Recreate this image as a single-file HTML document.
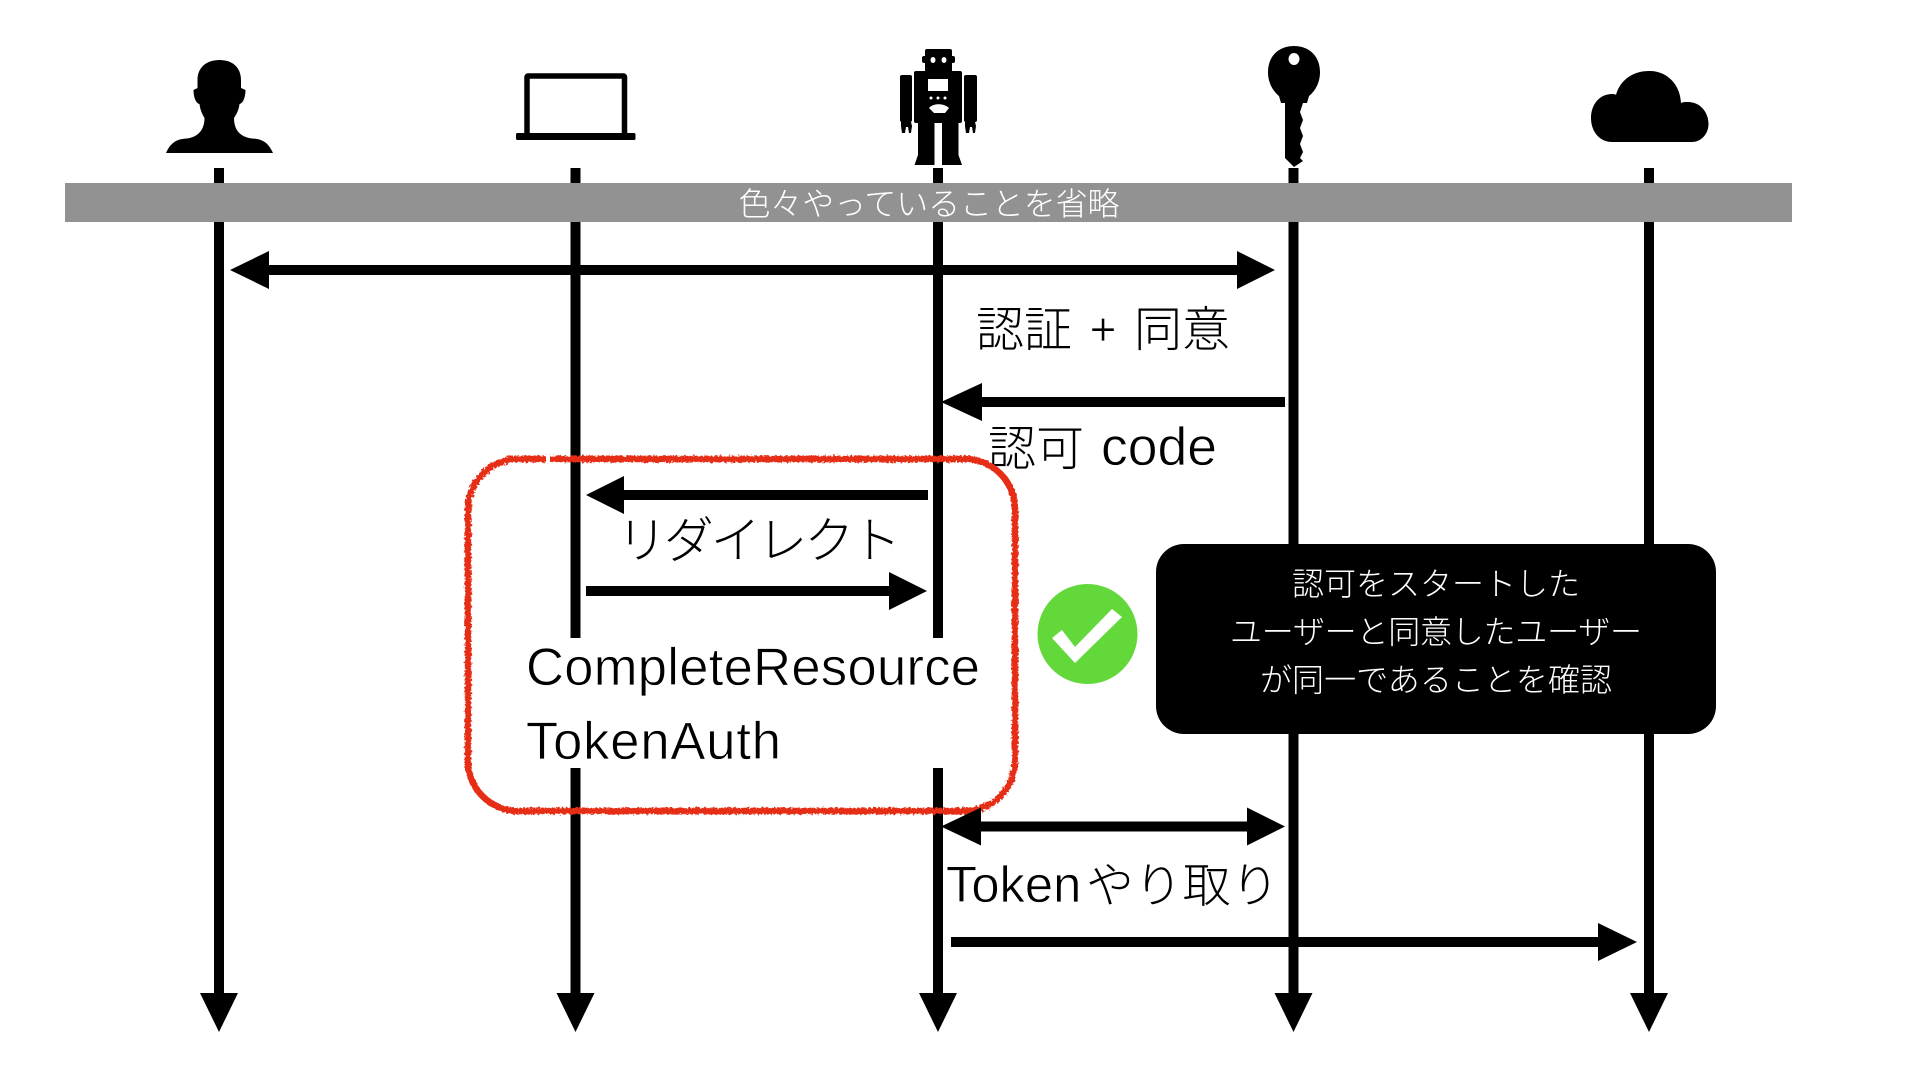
<!DOCTYPE html>
<html lang="ja">
<head>
<meta charset="utf-8">
<title>認可フロー</title>
<style>
html,body{margin:0;padding:0;background:#fff;width:1920px;height:1080px;overflow:hidden}
svg{display:block}
text{font-family:"Liberation Sans","Noto Sans CJK JP",sans-serif;font-weight:300}
.thin{stroke:#fff;stroke-width:.7px}
</style>
</head>
<body>
<svg width="1920" height="1080" viewBox="0 0 1920 1080" xmlns="http://www.w3.org/2000/svg">
<defs>
<filter id="rough" x="-5%" y="-5%" width="110%" height="110%">
<feTurbulence type="fractalNoise" baseFrequency="0.45" numOctaves="2" seed="4" result="n"/>
<feDisplacementMap in="SourceGraphic" in2="n" scale="5"/>
</filter>
</defs>
<rect width="1920" height="1080" fill="#fff"/>

<!-- lifelines -->
<g fill="#000">
<rect x="214" y="168" width="10" height="830"/>
<polygon points="200,993 238,993 219,1032"/>
<rect x="570.5" y="168" width="10" height="830"/>
<polygon points="556.5,993 594.5,993 575.5,1032"/>
<rect x="933" y="168" width="10" height="830"/>
<polygon points="919,993 957,993 938,1032"/>
<rect x="1288.500" y="168" width="10" height="830"/>
<polygon points="1274.500,993 1312.500,993 1293.500,1032"/>
<rect x="1644" y="168" width="10" height="830"/>
<polygon points="1630,993 1668,993 1649,1032"/>
</g>

<!-- grey band -->
<rect x="65" y="183" width="1727" height="39" fill="#929292"/>
<text x="929" y="215" font-size="32" fill="#fff" text-anchor="middle" textLength="381">色々やっていることを省略</text>

<!-- person -->
<path fill="#000" d="M166 153C171 142 177 139 187 138.5C198 137 204.5 130 204.5 118C201 112 200 108 199.5 104C195 103 193.5 95 193.5 90L197.5 88L197.5 80C197.5 67 207 60 219.5 60C232 60 241 67 241 80L241 88L245.5 90C245.5 95 244 103 239.5 104C239 108 238 112 234 118C234 130 240 137 252 138.5C262 139 268 142 273 153Z"/>

<!-- laptop -->
<rect x="527" y="76" width="97.5" height="60" rx="1" fill="none" stroke="#000" stroke-width="5.5"/>
<rect x="516" y="133" width="119.5" height="7" rx="1.5" fill="#000"/>

<!-- robot -->
<g fill="#000">
<rect x="925" y="49" width="27" height="23" rx="2"/>
<rect x="922" y="56" width="33" height="7" rx="2"/>
<rect x="914" y="71" width="48" height="52" rx="2"/>
<rect x="900" y="75" width="12" height="47" rx="2"/>
<rect x="964" y="75" width="13" height="47" rx="2"/>
<path d="M901 122h10l1 4-1 7h-2l-1-6h-2l-1 6h-3l-1-7zM965 122h10l1 4-1 7h-2l-1-6h-2l-1 6h-3l-1-7z"/>
<rect x="918" y="122" width="16.500" height="38"/>
<rect x="942" y="122" width="16.500" height="38"/>
<path d="M918 155h16.500v10h-20zM942 155h16.500l3.500 10h-20z"/>
</g>
<g fill="#fff">
<ellipse cx="933" cy="60" rx="2.5" ry="3"/>
<ellipse cx="944" cy="60" rx="2.5" ry="3"/>
<rect x="928" y="79" width="20" height="12"/>
<circle cx="931" cy="98" r="1.5"/><circle cx="938" cy="98" r="1.5"/><circle cx="945" cy="98" r="1.5"/>
<path d="M929 108C933 103 944 103 949 108L945 113H934Z"/>
</g>

<!-- key -->
<path fill="#000" fill-rule="evenodd" d="M1294 46C1309 46 1320 56 1320 72C1320 84 1314 92 1309 96L1307 103H1303L1300 112L1303 120L1300 128L1303 136L1300 144L1303 152L1300 158L1303 161L1294 167L1285 158V103H1281L1279 96C1274 92 1268 84 1268 72C1268 56 1279 46 1294 46ZM1294 53a5.5 6 0 1 0 .01 0Z"/>

<!-- cloud -->
<path fill="#000" d="M1612 142C1600 142 1591 132 1591 118C1591 104 1600 94 1612 94C1613 94 1615 94 1616 95C1620 80 1633 71 1649 71C1667 71 1680 84 1681 103C1683 102 1685 102 1688 102C1700 102 1708.500 112 1708.500 124C1708.500 134 1701 142 1692 142Z"/>

<!-- arrow 1 -->
<rect x="268" y="265" width="970" height="10" fill="#000"/>
<polygon points="230,270 269,251 269,289" fill="#000"/>
<polygon points="1275,270 1237,251 1237,289" fill="#000"/>
<text x="976" y="346" font-size="48" fill="#000">認証</text>
<text x="1103" y="345" font-size="46" fill="#000" text-anchor="middle" class="thin">+</text>
<text x="1134" y="346" font-size="48" fill="#000">同意</text>

<!-- arrow 2 -->
<rect x="981" y="397" width="304" height="10" fill="#000"/>
<polygon points="941,402 982,383 982,421" fill="#000"/>
<text x="988" y="465" font-size="48" fill="#000">認可</text>
<text x="1101" y="465" font-size="53.500" fill="#000" class="thin">code</text>

<!-- white mask for lifelines behind text -->
<rect x="500" y="638" width="480" height="130" fill="#fff"/>

<!-- arrow 3 -->
<rect x="623" y="490" width="305" height="10" fill="#000"/>
<polygon points="586,495 624,476 624,514" fill="#000"/>
<text x="617" y="558" font-size="50" fill="#000" textLength="284">リダイレクト</text>

<!-- arrow 4 -->
<rect x="586" y="586" width="304" height="10" fill="#000"/>
<polygon points="927,591 889,572 889,610" fill="#000"/>

<!-- resource text -->
<text x="526" y="685" font-size="52.500" fill="#000" textLength="454" class="thin">CompleteResource</text>
<text x="526" y="759" font-size="52.500" fill="#000" textLength="255" class="thin">TokenAuth</text>

<!-- red rounded box -->
<rect x="468" y="459" width="547" height="352" rx="50" ry="50" fill="none" stroke="#e62f18" stroke-width="6.5" filter="url(#rough)"/>
<rect x="546" y="455" width="4" height="8" fill="#fff"/>

<!-- arrow 5 -->
<rect x="980" y="821.500" width="267" height="10" fill="#000"/>
<polygon points="941,826.500 981,807.500 981,845.500" fill="#000"/>
<polygon points="1285,826.500 1247,807.500 1247,845.500" fill="#000"/>
<text x="946" y="902" font-size="50.700" fill="#000" class="thin">Token</text>
<text x="1086" y="902" font-size="48" fill="#000" textLength="193">やり取り</text>

<!-- arrow 6 -->
<rect x="951" y="937" width="648" height="10" fill="#000"/>
<polygon points="1637,942 1598,923 1598,961" fill="#000"/>

<!-- check -->
<circle cx="1087.500" cy="634" r="50" fill="#62d83a"/>
<polygon points="1052,638 1062,630 1075,647 1112,609 1122,617 1075,663" fill="#fff"/>

<!-- black note -->
<rect x="1156" y="544" width="560" height="190" rx="28" ry="28" fill="#000"/>
<g font-size="32" fill="#fff" text-anchor="middle">
<text x="1436" y="595" textLength="288">認可をスタートした</text>
<text x="1436" y="643" textLength="412">ユーザーと同意したユーザー</text>
<text x="1436" y="691" textLength="352">が同一であることを確認</text>
</g>
</svg>
</body>
</html>
